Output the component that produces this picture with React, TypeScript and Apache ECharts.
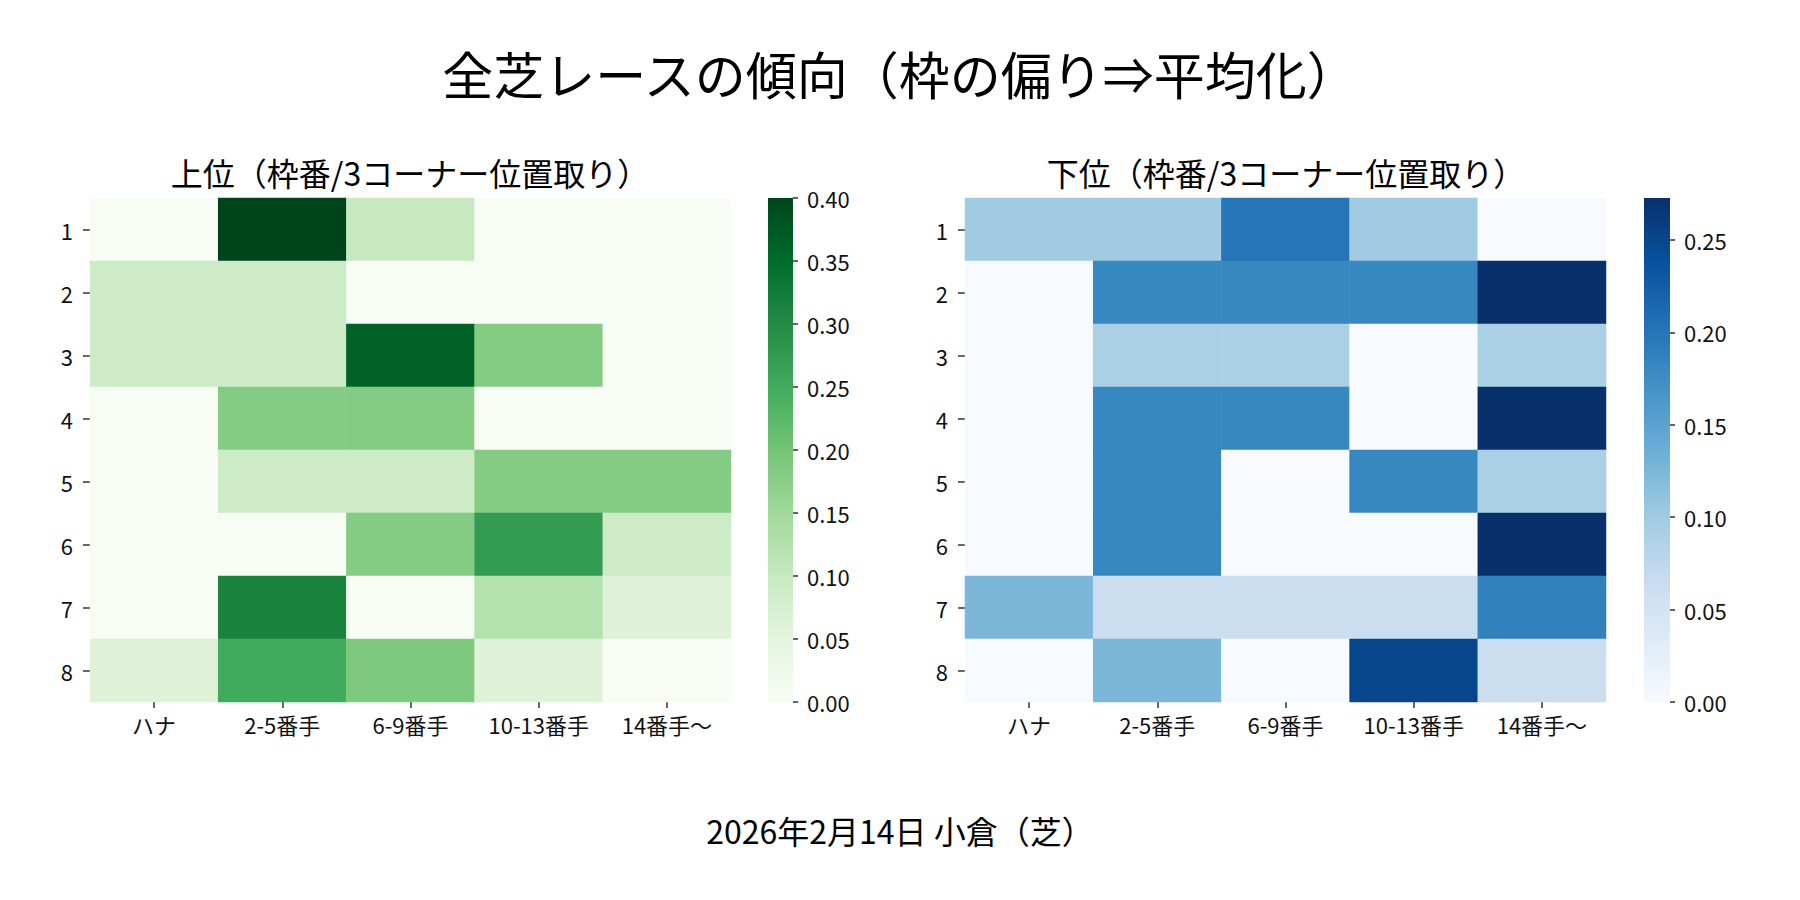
import React, { useEffect, useRef } from "react";
import * as echarts from "echarts";

// ---- data ----
const mainTitle = "全芝レースの傾向（枠の偏り⇒平均化）";
const leftTitle = "上位（枠番/3コーナー位置取り）";
const rightTitle = "下位（枠番/3コーナー位置取り）";
const footer = "2026年2月14日 小倉（芝）";

const gates = ["1", "2", "3", "4", "5", "6", "7", "8"];
const positions = ["ハナ", "2-5番手", "6-9番手", "10-13番手", "14番手〜"];

// 上位 (rows = 枠番 1..8, cols = positions)
const topValues = [
  [0, 0.4, 0.1, 0, 0],
  [0.0909, 0.0909, 0, 0, 0],
  [0.0909, 0.0909, 0.3636, 0.1818, 0],
  [0, 0.1818, 0.1818, 0, 0],
  [0, 0.0909, 0.0909, 0.1818, 0.1818],
  [0, 0, 0.1818, 0.2727, 0.0909],
  [0, 0.3125, 0, 0.125, 0.0625],
  [0.0625, 0.25, 0.1875, 0.0625, 0],
];

// 下位
const bottomValues = [
  [0.1, 0.1, 0.2, 0.1, 0],
  [0, 0.1818, 0.1818, 0.1818, 0.2727],
  [0, 0.0909, 0.0909, 0, 0.0909],
  [0, 0.1818, 0.1818, 0, 0.2727],
  [0, 0.1818, 0, 0.1818, 0.0909],
  [0, 0.1818, 0, 0, 0.2727],
  [0.125, 0.0625, 0.0625, 0.0625, 0.1875],
  [0, 0.125, 0, 0.25, 0.0625],
];

const greenTicks = [0, 0.05, 0.1, 0.15, 0.2, 0.25, 0.3, 0.35, 0.4];
const blueTicks = [0, 0.05, 0.1, 0.15, 0.2, 0.25];

const greens = ["#f7fcf5", "#e5f5e0", "#c7e9c0", "#a1d99b", "#74c476", "#41ab5d", "#238b45", "#006d2c", "#00441b"];
const blues = ["#f7fbff", "#deebf7", "#c6dbef", "#9ecae1", "#6baed6", "#4292c6", "#2171b5", "#08519c", "#08306b"];

const FONT = "'Noto Sans CJK JP', 'Noto Sans', sans-serif";

function toCells(m: number[][]) {
  const out: number[][] = [];
  m.forEach((row, r) => row.forEach((v, c) => out.push([c, r, v])));
  return out;
}
function maxOf(m: number[][]) {
  return Math.max(...m.map((r) => Math.max(...r)));
}
function gradient(colors: string[]) {
  return new echarts.graphic.LinearGradient(
    0, 1, 0, 0,
    colors.map((c, i) => ({ offset: i / (colors.length - 1), color: c }))
  );
}

export default function App() {
  const ref = useRef<HTMLDivElement>(null);
  useEffect(() => {
    if (!ref.current) return;
    const chart = echarts.init(ref.current, null, { renderer: "svg" });
    const gMax = maxOf(topValues);
    const bMax = maxOf(bottomValues);

    const heatX = (gi: number) => ({
      type: "category",
      gridIndex: gi,
      data: positions,
      axisLine: { show: false },
      axisTick: { show: true, interval: 0, alignWithLabel: true, length: 6, lineStyle: { color: "#333", width: 1.5 } },
      axisLabel: { interval: 0, hideOverlap: false, fontSize: 22, color: "#111", fontFamily: FONT, margin: 11 },
      splitLine: { show: false },
    });
    const heatY = (gi: number) => ({
      type: "category",
      gridIndex: gi,
      data: gates,
      inverse: true,
      axisLine: { show: false },
      axisTick: { show: true, interval: 0, alignWithLabel: true, length: 7, lineStyle: { color: "#333", width: 1.5 } },
      axisLabel: { interval: 0, fontSize: 22, color: "#111", fontFamily: FONT, margin: 17 },
      splitLine: { show: false },
    });
    const cbX = (gi: number) => ({
      type: "category",
      gridIndex: gi,
      data: ["cb"],
      show: false,
    });
    const cbY = (gi: number, max: number, ticks: number[]) => ({
      type: "value",
      gridIndex: gi,
      position: "right",
      min: 0,
      max,
      axisLine: { show: false },
      splitLine: { show: false },
      axisTick: { show: true, length: 5, customValues: ticks, lineStyle: { color: "#333", width: 1.5 } },
      axisLabel: {
        show: true,
        customValues: ticks,
        fontSize: 22,
        color: "#111",
        fontFamily: FONT,
        margin: 14,
        formatter: (v: number) => v.toFixed(2),
      },
    });

    chart.setOption({
      animation: false,
      backgroundColor: "#ffffff",
      textStyle: { fontFamily: FONT },
      grid: [
        { left: 90, top: 198, width: 641, height: 504 },
        { left: 768, top: 198, width: 25, height: 504 },
        { left: 965, top: 198, width: 641, height: 504 },
        { left: 1644, top: 198, width: 26, height: 504 },
      ],
      xAxis: [heatX(0), cbX(1), heatX(2), cbX(3)],
      yAxis: [heatY(0), cbY(1, gMax, greenTicks), heatY(2), cbY(3, bMax, blueTicks)],
      visualMap: [
        { type: "continuous", show: false, min: 0, max: gMax, seriesIndex: 0, inRange: { color: greens } },
        { type: "continuous", show: false, min: 0, max: bMax, seriesIndex: 1, inRange: { color: blues } },
      ],
      series: [
        {
          type: "heatmap",
          xAxisIndex: 0,
          yAxisIndex: 0,
          data: toCells(topValues),
          silent: true,
          itemStyle: { borderWidth: 0 },
          emphasis: { disabled: true },
        },
        {
          type: "heatmap",
          xAxisIndex: 2,
          yAxisIndex: 2,
          data: toCells(bottomValues),
          silent: true,
          itemStyle: { borderWidth: 0 },
          emphasis: { disabled: true },
        },
        {
          type: "bar",
          xAxisIndex: 1,
          yAxisIndex: 1,
          data: [gMax],
          barWidth: "100%",
          silent: true,
          itemStyle: { color: gradient(greens) },
        },
        {
          type: "bar",
          xAxisIndex: 3,
          yAxisIndex: 3,
          data: [bMax],
          barWidth: "100%",
          silent: true,
          itemStyle: { color: gradient(blues) },
        },
      ],
      graphic: [
        {
          type: "text",
          x: 900,
          y: 73,
          style: { text: mainTitle, fontSize: 51, fontFamily: FONT, fill: "#000", textAlign: "center", textVerticalAlign: "middle" },
        },
        {
          type: "text",
          x: 410,
          y: 172,
          style: { text: leftTitle, fontSize: 32, fontFamily: FONT, fill: "#000", textAlign: "center", textVerticalAlign: "middle" },
        },
        {
          type: "text",
          x: 1286,
          y: 172,
          style: { text: rightTitle, fontSize: 32, fontFamily: FONT, fill: "#000", textAlign: "center", textVerticalAlign: "middle" },
        },
        {
          type: "text",
          x: 900,
          y: 830,
          style: { text: footer, fontSize: 32, fontFamily: FONT, fill: "#000", textAlign: "center", textVerticalAlign: "middle" },
        },
      ],
    });
    return () => chart.dispose();
  }, []);

  return (
    <div
      ref={ref}
      style={{ position: "absolute", left: 0, top: 0, width: 1800, height: 900, background: "#fff" }}
    />
  );
}
